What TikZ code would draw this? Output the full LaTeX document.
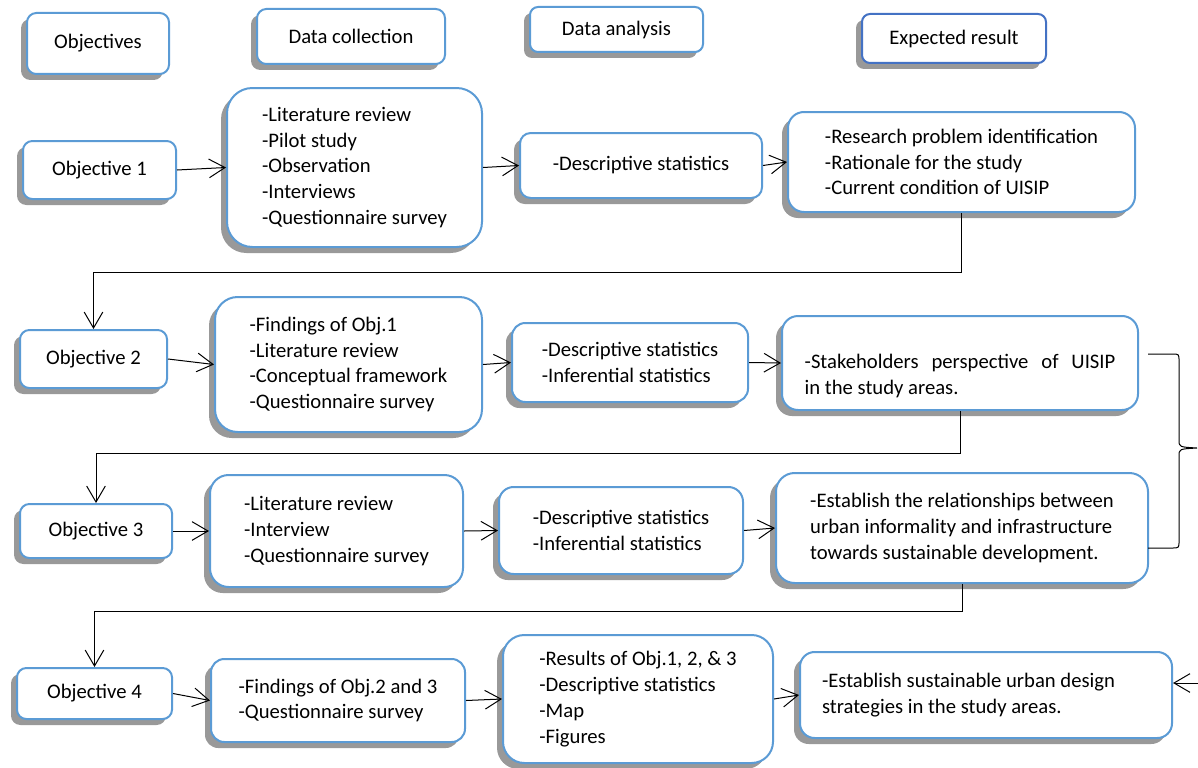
\documentclass[tikz,border=0pt]{standalone}
\usepackage{fontspec}
\setmainfont{Carlito}
\usetikzlibrary{arrows.meta,shadows}
\definecolor{boxblue}{HTML}{5B9BD5}
\definecolor{headblue}{HTML}{4472C4}
\tikzset{
  box/.style={draw=boxblue, line width=1.5pt, fill=white, rounded corners=#1, align=left,
    drop shadow={shadow xshift=-4.5pt, shadow yshift=-4.5pt, fill=black!40, opacity=1}},
  box/.default=7pt,
  arr/.style={-{Straight Barb[length=12pt,width=14pt]}, line width=0.75pt},
}
\begin{document}
\begin{tikzpicture}[x=0.75pt,y=-0.75pt,font=\fontsize{15.5pt}{19.3pt}\selectfont]
  \useasboundingbox (0,0) rectangle (1198,767);
  % column headings
  \node[box, minimum width=106.5pt, minimum height=45.75pt] (hobj) at (98,43.5) {Objectives};
  \node[box, minimum width=141pt, minimum height=41.25pt] (hcol) at (351,36.5) {Data collection};
  \node[box=6pt, minimum width=129.75pt, minimum height=33.75pt] (hana) at (616.5,29.5) {Data analysis};
  \node[box=6pt, draw=headblue, minimum width=138pt, minimum height=36.75pt] (hres) at (954,38.5) {Expected result};
  % objective 1
  \node[box, minimum width=114.75pt, minimum height=43.5pt] (obj1) at (99.5,170) {Objective 1};
  \node[box=19pt, minimum width=191.25pt, minimum height=119.25pt] (col1) at (354.5,167.5)
    {-Literature review\\-Pilot study\\-Observation\\-Interviews\\-Questionnaire survey};
  \node[box=8pt, minimum width=181.5pt, minimum height=48.75pt] (ana1) at (641,165.5) {-Descriptive statistics};
  \node[box=12pt, minimum width=260.25pt, minimum height=75pt] (res1) at (961.5,162)
    {-Research problem identification\\-Rationale for the study\\-Current condition of UISIP};
  % objective 2
  \node[box, minimum width=110.25pt, minimum height=43.5pt] (obj2) at (93.5,359) {Objective 2};
  \node[box=17pt, minimum width=200.25pt, minimum height=101.25pt] (col2) at (348.5,364.5)
    {-Findings of Obj.1\\-Literature review\\-Conceptual framework\\-Questionnaire survey};
  \node[box=10pt, minimum width=177pt, minimum height=59.25pt] (ana2) at (630,362.5)
    {-Descriptive statistics\\-Inferential statistics};
  \node[box=12pt, align=flush left, text width=233pt, inner xsep=17pt, text height=30pt,
    minimum height=70.5pt] (res2) at (960,363)
    {\makebox[233pt][s]{-Stakeholders perspective of UISIP}\\in the study areas.};
  % objective 3
  \node[box, minimum width=114pt, minimum height=40.5pt] (obj3) at (96,531) {Objective 3};
  \node[box=14pt, minimum width=189.75pt, minimum height=84pt] (col3) at (336.5,531)
    {-Literature review\\-Interview\\-Questionnaire survey};
  \node[box=11pt, minimum width=183pt, minimum height=65.25pt] (ana3) at (621,530.5)
    {-Descriptive statistics\\-Inferential statistics};
  \node[box=14pt, minimum width=279pt, minimum height=82.5pt] (res3) at (962,528)
    {-Establish the relationships between\\urban informality and infrastructure\\towards sustainable development.};
  % objective 4
  \node[box, minimum width=116.25pt, minimum height=38.25pt] (obj4) at (94.5,693.5) {Objective 4};
  \node[box=10pt, minimum width=190.5pt, minimum height=62.25pt] (col4) at (338,700.5)
    {-Findings of Obj.2 and 3\\-Questionnaire survey};
  \node[box=16pt, minimum width=202.5pt, minimum height=96pt] (ana4) at (638,699)
    {-Results of Obj.1, 2, \& 3\\-Descriptive statistics\\-Map\\-Figures};
  \node[box=11pt, align=flush left, text width=246pt, inner xsep=16.5pt, minimum height=64.5pt] (res4) at (986,695)
    {-Establish sustainable urban design\\strategies in the study areas.};
  % arrows along the rows
  \draw[arr] (obj1.east) -- (col1.west);
  \draw[arr] (col1.east) -- (ana1.west);
  \draw[arr] (ana1.east) -- (res1.west);
  \draw[arr] (obj2.east) -- (col2.west);
  \draw[arr] (col2.east) -- (ana2.west);
  \draw[arr] (ana2.east) -- (res2.west);
  \draw[arr] (obj3.east) -- (col3.west);
  \draw[arr] (col3.east) -- (ana3.west);
  \draw[arr] (ana3.east) -- (res3.west);
  \draw[arr] (obj4.east) -- (col4.west);
  \draw[arr] (col4.east) -- (ana4.west);
  \draw[arr] (ana4.east) -- (res4.west);
  % links to the next objective
  \draw[arr] (res1.south) -- ++(0,59) -| (obj2.north);
  \draw[arr] (res2.south) -- ++(0,42) -| (obj3.north);
  \draw[arr] (res3.south) -- ++(0,27) -| (obj4.north);
  % brace and arrow on the right
  \coordinate (btop) at (1148,354);
  \coordinate (bbot) at (1148,548);
  \coordinate (btip) at (1197,448);
  \coordinate (rin) at (1198,683);
  \draw[line width=0.75pt] (btop) -- (1172,354) .. controls (1179,354) .. (1179,361) -- (1179,440)
    .. controls (1179,447) .. (btip) .. controls (1179,449) .. (1179,456) -- (1179,541)
    .. controls (1179,548) .. (1172,548) -- (bbot);
  \draw[arr] (rin) -- (rin -| res4.east);
\end{tikzpicture}
\end{document}
